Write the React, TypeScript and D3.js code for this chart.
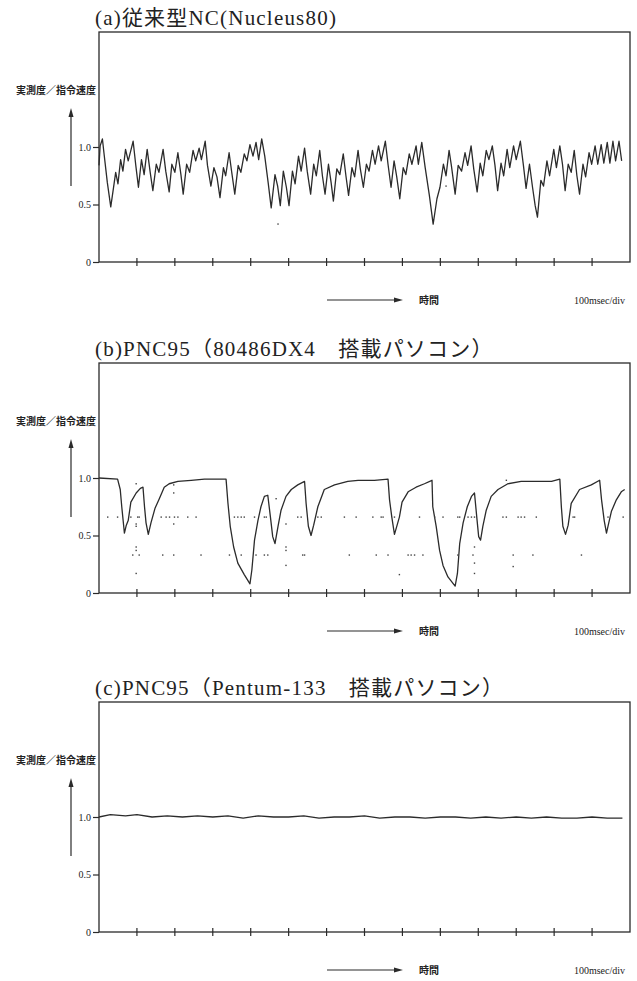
import React, { useEffect, useRef } from "react";
import * as d3 from "d3";

// time in divisions (100 msec/div), ratio = measured / commanded speed
const timeA = [
  0.0, 0.03, 0.09, 0.13, 0.22, 0.31, 0.38, 0.44, 0.5, 0.57, 0.63, 0.7, 0.77, 0.84, 0.9, 0.97, 1.04, 1.12, 1.19, 1.27,
  1.35, 1.42, 1.51, 1.58, 1.69, 1.76, 1.85, 1.92, 2.0, 2.08, 2.16, 2.22, 2.31, 2.39, 2.48, 2.55, 2.64, 2.7, 2.8, 2.86,
  2.95, 3.03, 3.11, 3.19, 3.28, 3.34, 3.43, 3.5, 3.58, 3.67, 3.74, 3.83, 3.9, 3.98, 4.06, 4.14, 4.21, 4.29, 4.37, 4.46,
  4.54, 4.64, 4.71, 4.78, 4.86, 4.94, 5.01, 5.1, 5.17, 5.26, 5.33, 5.42, 5.49, 5.58, 5.66, 5.73, 5.82, 5.89, 5.96, 6.05,
  6.12, 6.18, 6.27, 6.35, 6.44, 6.51, 6.58, 6.67, 6.74, 6.83, 6.89, 6.97, 7.05, 7.12, 7.21, 7.28, 7.37, 7.44, 7.55, 7.62,
  7.7, 7.78, 7.85, 7.93, 8.02, 8.09, 8.18, 8.25, 8.36, 8.42, 8.51, 8.6, 8.71, 8.81, 8.91, 8.99, 9.08, 9.15, 9.23, 9.29,
  9.39, 9.47, 9.56, 9.65, 9.72, 9.81, 9.88, 9.97, 10.05, 10.12, 10.21, 10.28, 10.37, 10.44, 10.51, 10.6, 10.67, 10.76,
  10.83, 10.93, 11.0, 11.11, 11.19, 11.26, 11.35, 11.43, 11.5, 11.56, 11.65, 11.72, 11.81, 11.88, 11.99, 12.06, 12.15,
  12.22, 12.29, 12.37, 12.45, 12.53, 12.6, 12.67, 12.76, 12.83, 12.92, 12.99, 13.08, 13.15, 13.24, 13.31, 13.4, 13.47,
  13.55, 13.62, 13.71, 13.78,
];
const ratioA = [
  0.84, 1.01, 1.07, 0.95, 0.69, 0.48, 0.64, 0.78, 0.68, 0.89, 0.79, 0.98, 0.88, 0.97, 1.05, 0.84, 0.65, 0.89, 0.76, 0.98,
  0.78, 0.62, 0.85, 0.78, 0.98, 0.79, 0.61, 0.85, 0.78, 0.95, 0.76, 0.59, 0.85, 0.78, 0.97, 0.88, 0.99, 0.89, 1.05, 0.84,
  0.66, 0.82, 0.74, 0.56, 0.82, 0.75, 0.95, 0.78, 0.59, 0.84, 0.78, 0.94, 0.88, 1.02, 0.92, 1.04, 0.89, 1.07, 0.92, 0.69,
  0.47, 0.76, 0.66, 0.49, 0.79, 0.65, 0.49, 0.79, 0.68, 0.92, 0.79, 0.99, 0.79, 0.59, 0.85, 0.75, 0.97, 0.75, 0.59, 0.85,
  0.69, 0.53, 0.81, 0.76, 0.94, 0.75, 0.58, 0.82, 0.74, 0.97, 0.81, 0.65, 0.85, 0.79, 0.97, 0.85, 1.01, 0.88, 1.05, 0.85,
  0.65, 0.88, 0.74, 0.55, 0.82, 0.76, 0.94, 0.85, 1.01, 0.85, 1.04, 0.82, 0.58, 0.33, 0.55, 0.65, 0.85, 0.75, 0.97, 0.84,
  0.59, 0.84, 0.79, 0.95, 0.84, 1.01, 0.81, 0.61, 0.86, 0.75, 0.97, 0.89, 1.01, 0.84, 0.62, 0.86, 0.75, 0.98,
  0.82, 1.01, 0.89, 1.05, 0.84, 0.64, 0.85, 0.65, 0.49, 0.39, 0.71, 0.66, 0.88, 0.75, 0.98, 0.82, 1.01,
  0.85, 0.62, 0.85, 0.78, 0.97, 0.75, 0.59, 0.85, 0.74, 0.95, 0.85, 1.01, 0.85, 1.02, 0.86, 1.04, 0.86,
  1.05, 0.88, 1.05, 0.88,
];
const dotTimeA = [4.72, 9.15];
const dotRatioA = [0.33, 0.66];

const timeB = [
  0.0, 0.49, 0.56, 0.6, 0.67, 0.72, 0.77, 0.84, 0.98, 1.09, 1.16, 1.2, 1.24, 1.3, 1.37, 1.48, 1.59, 1.72, 1.85, 2.08,
  2.43, 2.78, 3.04, 3.35, 3.4, 3.46, 3.55, 3.66, 3.83, 3.98, 4.03, 4.1, 4.19, 4.27, 4.36, 4.45, 4.52, 4.58, 4.64, 4.72,
  4.8, 4.93, 5.07, 5.24, 5.42, 5.46, 5.52, 5.59, 5.66, 5.77, 5.94, 6.21, 6.56, 6.83, 7.26, 7.62, 7.66, 7.72, 7.79, 7.86,
  7.92, 7.99, 8.15, 8.36, 8.58, 8.78, 8.8, 8.89, 8.98, 9.07, 9.2, 9.39, 9.45, 9.51, 9.6, 9.71, 9.82, 9.9, 9.96, 10.01,
  10.06, 10.12, 10.21, 10.34, 10.52, 10.78, 11.13, 11.58, 11.93, 12.15, 12.19, 12.23, 12.3, 12.37, 12.45, 12.67, 12.98,
  13.2, 13.25, 13.32, 13.38, 13.44, 13.51, 13.64, 13.77, 13.86,
];
const ratioB = [
  1.0, 0.99, 0.9, 0.75, 0.52, 0.59, 0.63, 0.79, 0.87, 0.91, 0.92, 0.75, 0.61, 0.51, 0.61, 0.74, 0.82, 0.92, 0.95, 0.97,
  0.98, 0.99, 0.99, 0.99, 0.78, 0.58, 0.4, 0.26, 0.16, 0.08, 0.2, 0.46, 0.63, 0.75, 0.84, 0.85, 0.66, 0.49, 0.43, 0.58,
  0.72, 0.84, 0.9, 0.94, 0.97, 0.78, 0.58, 0.5, 0.59, 0.75, 0.9, 0.94, 0.97, 0.98, 0.98, 0.99, 0.81, 0.66, 0.51, 0.59,
  0.66, 0.79, 0.88, 0.92, 0.95, 0.98, 0.75, 0.58, 0.37, 0.24, 0.14, 0.06, 0.17, 0.43, 0.61, 0.75, 0.84, 0.87, 0.66, 0.49,
  0.46, 0.58, 0.72, 0.84, 0.9, 0.95, 0.97, 0.97, 0.97, 0.99, 0.75, 0.58, 0.51, 0.59, 0.78, 0.9, 0.94,
  0.98, 0.81, 0.63, 0.52, 0.61, 0.71, 0.81, 0.88, 0.9,
];
const dotTimeB = [
  0.23, 0.49, 0.84, 1.02, 1.06, 1.64, 1.77, 1.86, 1.99, 2.08, 2.34, 2.56, 3.57, 3.66, 3.75, 3.83, 4.1, 4.36, 4.41, 5.24,
  5.33, 5.77, 5.86, 6.47, 6.78, 7.22, 7.44, 7.49, 7.79, 8.45, 8.85, 9.07, 9.46, 9.51, 9.73, 9.82, 9.9, 10.65, 10.74,
  11.05, 11.13, 11.22, 11.53, 12.5, 12.54, 13.42, 13.82,
  0.89, 1.06, 1.68, 1.97, 2.69, 3.44, 3.75, 4.14, 4.36, 4.45, 5.37, 5.42, 6.6, 7.31, 7.62, 8.15, 8.23, 8.32, 8.54, 9.46,
  9.86, 10.92, 11.44, 12.72,
  0.98, 0.98, 0.98, 0.98, 0.98, 0.98, 1.97, 1.97, 1.97, 4.67, 4.93, 4.93, 4.93, 4.93, 7.92, 9.9, 9.9, 9.9, 10.92, 10.74,
];
const dotRatioB = [
  0.66, 0.66, 0.66, 0.66, 0.66, 0.66, 0.66, 0.66, 0.66, 0.66, 0.66, 0.66, 0.66, 0.66, 0.66, 0.66, 0.66, 0.66, 0.66, 0.66,
  0.66, 0.66, 0.66, 0.66, 0.66, 0.66, 0.66, 0.66, 0.66, 0.66, 0.66, 0.66, 0.66, 0.66, 0.66, 0.66, 0.66, 0.66, 0.66,
  0.66, 0.66, 0.66, 0.66, 0.66, 0.66, 0.66, 0.66,
  0.33, 0.33, 0.33, 0.33, 0.33, 0.33, 0.33, 0.33, 0.33, 0.33, 0.33, 0.33, 0.33, 0.33, 0.33, 0.33, 0.33, 0.33, 0.33, 0.33,
  0.33, 0.33, 0.33, 0.33,
  0.95, 0.6, 0.58, 0.4, 0.37, 0.17, 0.94, 0.87, 0.6, 0.82, 0.6, 0.4, 0.37, 0.24, 0.16, 0.4, 0.26, 0.17, 0.23, 0.98,
];

const timeC = [
  0.0, 0.3, 0.7, 1.0, 1.4, 1.8, 2.2, 2.6, 3.0, 3.4, 3.8, 4.2, 4.6, 5.0, 5.4, 5.8, 6.2, 6.6, 7.0, 7.4, 7.8, 8.2, 8.6, 9.0,
  9.4, 9.8, 10.2, 10.6, 11.0, 11.4, 11.8, 12.2, 12.6, 13.0, 13.4, 13.8,
];
const ratioC = [
  1.0, 1.02, 1.01, 1.02, 1.0, 1.01, 1.0, 1.01, 1.0, 1.01, 0.99, 1.01, 1.0, 1.0, 1.01, 0.99, 1.0, 1.0, 1.01, 0.99, 1.0,
  1.0, 0.99, 1.0, 1.0, 0.99, 1.0, 0.99, 1.0, 0.99, 1.0, 0.99, 0.99, 1.0, 0.99, 0.99,
];

const xTicks = [1, 2, 3, 4, 5, 6, 7, 8, 9, 10, 11, 12, 13];
const yTicks = [0, 0.5, 1.0];
const yTickLabels = ["0", "0.5", "1.0"];

const panels = [
  { title: "(a)従来型NC(Nucleus80)", bottom: 262, time: timeA, ratio: ratioA, dotTime: dotTimeA, dotRatio: dotRatioA },
  { title: "(b)PNC95（80486DX4\u3000搭載パソコン）", bottom: 593, time: timeB, ratio: ratioB, dotTime: dotTimeB, dotRatio: dotRatioB },
  { title: "(c)PNC95（Pentum-133\u3000搭載パソコン）", bottom: 932, time: timeC, ratio: ratioC, dotTime: [], dotRatio: [] },
];

const serif = "'Liberation Serif', 'Noto Sans CJK JP', serif";
const cjk = "'Noto Sans CJK JP', sans-serif";

export default function App() {
  const ref = useRef<SVGSVGElement>(null);

  useEffect(() => {
    const svg = d3.select(ref.current);
    svg.selectAll("*").remove();

    const left = 99;
    const width = 531;
    const height = 230;
    const ink = "#2a2a2a";

    panels.forEach((p) => {
      const x = d3.scaleLinear().domain([0, 14]).range([left, left + width]);
      const y = d3.scaleLinear().domain([0, 2]).range([p.bottom, p.bottom - height]);
      const g = svg.append("g");

      g.append("text")
        .attr("x", left - 4)
        .attr("y", y(2) - 7)
        .attr("font-family", serif)
        .attr("font-size", 21)
        .attr("letter-spacing", 1.2)
        .attr("fill", "#222")
        .text(p.title);

      g.append("rect")
        .attr("x", left)
        .attr("y", y(2))
        .attr("width", width)
        .attr("height", height)
        .attr("fill", "none")
        .attr("stroke", ink)
        .attr("stroke-width", 1.3);

      // y axis ticks + labels
      const yAxis = d3
        .axisLeft(y)
        .tickValues(yTicks)
        .tickSize(6)
        .tickPadding(2)
        .tickFormat((d, i) => yTickLabels[i]);
      const ya = g.append("g").attr("transform", `translate(${left},0)`).call(yAxis);
      ya.select(".domain").remove();
      ya.selectAll("line").attr("stroke", ink).attr("stroke-width", 1.2);
      ya.selectAll("text").attr("font-family", serif).attr("font-size", 10).attr("fill", "#222");

      // x ticks crossing the baseline
      g.selectAll(".xt")
        .data(xTicks)
        .enter()
        .append("line")
        .attr("x1", (d) => x(d))
        .attr("x2", (d) => x(d))
        .attr("y1", p.bottom - 4)
        .attr("y2", p.bottom + 4)
        .attr("stroke", ink)
        .attr("stroke-width", 1.2);

      // axis name and arrow
      g.append("text")
        .attr("x", left - 3)
        .attr("y", p.bottom - 168)
        .attr("text-anchor", "end")
        .attr("font-family", cjk)
        .attr("font-weight", "bold")
        .attr("font-size", 10)
        .attr("fill", "#222")
        .text("実測度／指令速度");
      g.append("line")
        .attr("x1", 71)
        .attr("x2", 71)
        .attr("y1", p.bottom - 76)
        .attr("y2", p.bottom - 148)
        .attr("stroke", ink)
        .attr("stroke-width", 1.2);
      g.append("path")
        .attr("d", `M71,${p.bottom - 154} L68.5,${p.bottom - 145} L73.5,${p.bottom - 145} Z`)
        .attr("fill", ink);

      // time arrow and units
      const ay = p.bottom + 38;
      g.append("line")
        .attr("x1", 327)
        .attr("x2", 396)
        .attr("y1", ay)
        .attr("y2", ay)
        .attr("stroke", ink)
        .attr("stroke-width", 1.2);
      g.append("path").attr("d", `M403,${ay} L394,${ay - 2.5} L394,${ay + 2.5} Z`).attr("fill", ink);
      g.append("text")
        .attr("x", 419)
        .attr("y", ay + 3.5)
        .attr("font-family", cjk)
        .attr("font-weight", "bold")
        .attr("font-size", 10)
        .attr("fill", "#222")
        .text("時間");
      g.append("text")
        .attr("x", 625)
        .attr("y", ay + 3.5)
        .attr("text-anchor", "end")
        .attr("font-family", serif)
        .attr("font-size", 10)
        .attr("fill", "#222")
        .text("100msec/div");

      const idx = d3.range(p.time.length);
      const line = d3
        .line<number>()
        .x((i) => x(p.time[i]))
        .y((i) => y(p.ratio[i]));
      g.append("path")
        .datum(idx)
        .attr("d", line)
        .attr("fill", "none")
        .attr("stroke", "#2b2b2b")
        .attr("stroke-width", 1.3)
        .attr("stroke-linejoin", "round");

      g.selectAll(".dot")
        .data(d3.range(p.dotTime.length))
        .enter()
        .append("rect")
        .attr("x", (i) => x(p.dotTime[i]) - 0.7)
        .attr("y", (i) => y(p.dotRatio[i]) - 0.7)
        .attr("width", 1.4)
        .attr("height", 1.4)
        .attr("fill", "#444");
    });
  }, []);

  return (
    <svg
      ref={ref}
      width={637}
      height={981}
      style={{ position: "absolute", left: 0, top: 0, background: "#fff" }}
    />
  );
}
